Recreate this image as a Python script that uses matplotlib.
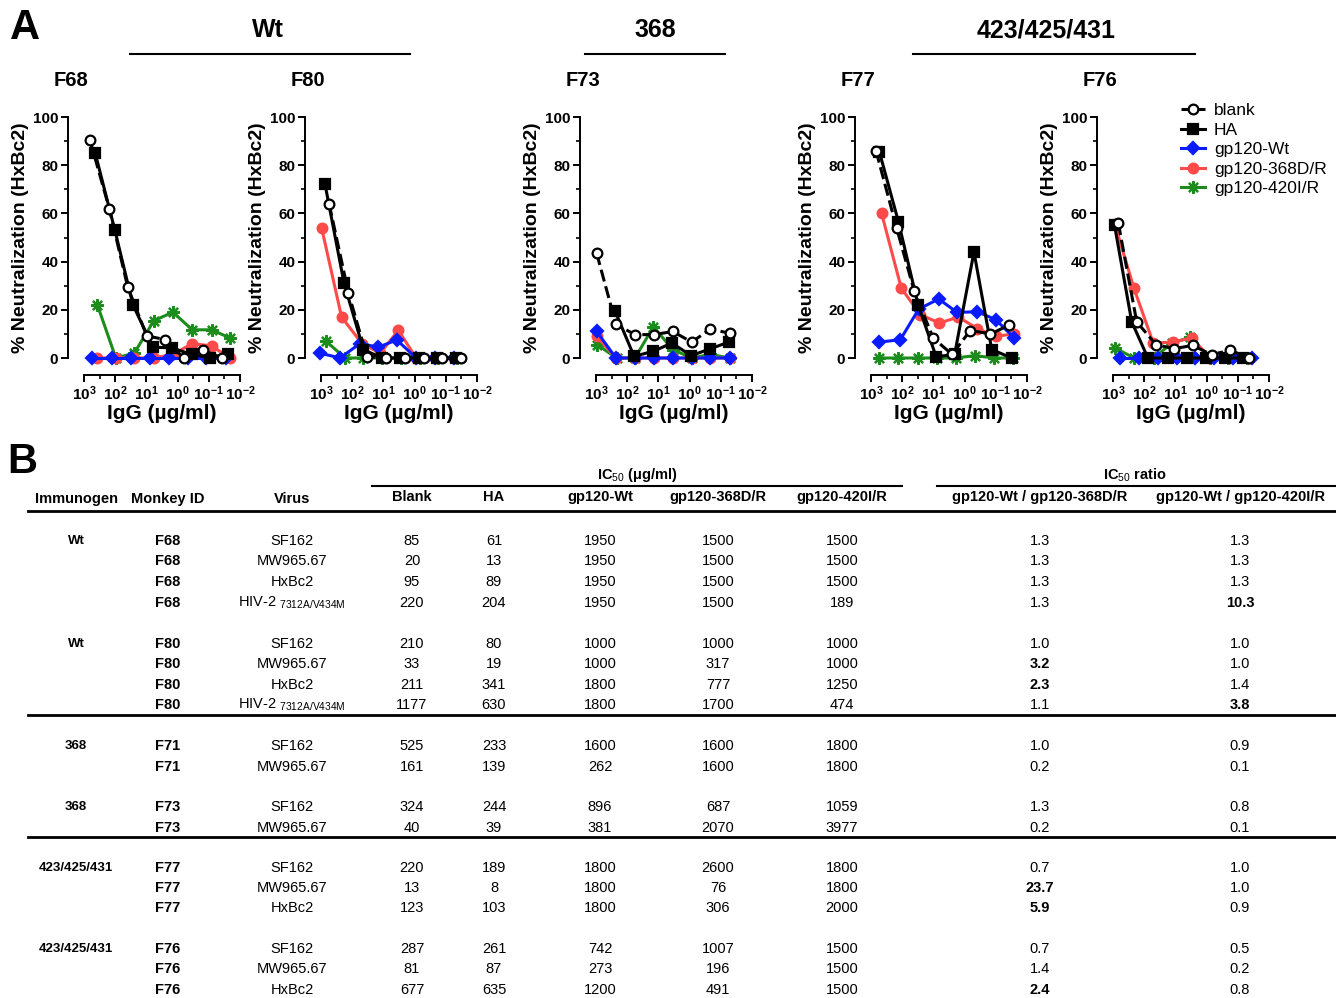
import numpy as np
import matplotlib
matplotlib.use('Agg')
import matplotlib.pyplot as plt
import matplotlib.ticker as ticker
from matplotlib.lines import Line2D

plt.rcParams['font.family'] = ['Liberation Sans', 'DejaVu Sans']
plt.rcParams['mathtext.fontset'] = 'custom'
plt.rcParams['mathtext.rm'] = 'Liberation Sans'
plt.rcParams['mathtext.it'] = 'Liberation Sans:italic'
plt.rcParams['mathtext.bf'] = 'Liberation Sans:bold'

W, H = 1336, 998

# ---------------- panel A data: log10 IgG (ug/ml) and % neutralization
# series order: blank, HA, gp120-Wt, gp120-368D/R, gp120-420I/R
series_names = ['blank', 'HA', 'gp120-Wt', 'gp120-368D/R', 'gp120-420I/R']
panel_ids = ['F68', 'F80', 'F73', 'F77', 'F76']

f68_x = [[2.81, 2.19, 1.60, 0.99, 0.39, -0.19, -0.82, -1.43],
         [2.64, 2.01, 1.43, 0.79, 0.19, -0.45, -1.04, -1.63],
         [2.73, 2.09, 1.49, 0.90, 0.28, -0.33, -0.92, -1.54],
         [2.57, 1.98, 1.39, 0.76, 0.15, -0.47, -1.09, -1.68],
         [2.57, 1.98, 1.39, 0.76, 0.15, -0.47, -1.09, -1.68]]
f68_y = [[90.5, 62, 29.5, 9.2, 7.6, 0, 3.2, 0],
         [85, 53, 22, 4.5, 4.2, 1.5, 0, 1.8],
         [0, 0, 0, 0, 0, 0, 0, 0],
         [0, 0, 0, 0, 1.5, 6, 5, 0],
         [22, 0, 2, 15.5, 19, 11.7, 11.7, 8.3]]

f80_x = [[2.74, 2.12, 1.53, 0.92, 0.30, -0.29, -0.88, -1.49],
         [2.87, 2.26, 1.64, 1.05, 0.46, -0.14, -0.73, -1.34],
         [3.03, 2.39, 1.75, 1.16, 0.57, -0.05, -0.66, -1.25],
         [2.98, 2.34, 1.69, 1.10, 0.52, -0.05, -0.66, -1.25],
         [2.84, 2.23, 1.64, 1.04, 0.44, -0.17, -0.76, -1.36]]
f80_y = [[64, 27, 0.5, 0, 0, 0, 0, 0],
         [72, 31, 3.5, 0, 0, 0, 0, 0],
         [2, 0, 6, 4.5, 7.5, 0, 0, 0],
         [54, 17, 6, 2, 11.5, 0, 0, 0],
         [7, 0, 0, 0, 0, 0, 0, 0]]

f73_x = [[2.98, 2.36, 1.75, 1.14, 0.54, -0.07, -0.66, -1.28],
         [2.39, 1.78, 1.16, 0.57, -0.05, -0.64, -1.25],
         [2.98, 2.36, 1.75, 1.14, 0.54, -0.07, -0.66, -1.28],
         [2.98, 2.36, 1.75, 1.14, 0.54, -0.07, -0.66, -1.28],
         [2.96, 2.34, 1.75, 1.16, 0.54, -0.07, -0.66, -1.28]]
f73_y = [[43.5, 14, 9.7, 9.7, 11, 6.6, 12, 10.3],
         [19.5, 0.7, 2.8, 6.2, 1, 3.7, 6.6],
         [11, 0, 0, 0, 0, 0, 0, 0],
         [9, 0, 0, 0, 0, 0, 0, 0],
         [5.5, 0, 0, 13, 3.5, 0, 1.5, 0]]

f77_x = [[2.84, 2.18, 1.62, 1.01, 0.40, -0.18, -0.83, -1.41],
         [2.73, 2.12, 1.49, 0.91, 0.32, -0.30, -0.87, -1.51],
         [2.73, 2.06, 1.47, 0.83, 0.24, -0.41, -1.00, -1.59],
         [2.66, 2.03, 1.42, 0.81, 0.20, -0.41, -1.00, -1.59],
         [2.73, 2.12, 1.49, 0.88, 0.28, -0.33, -0.95, -1.55]]
f77_y = [[86, 54, 28, 8.3, 1.5, 11.4, 10, 13.5],
         [85.5, 56.5, 22, 0.5, 1.5, 44, 3.5, 0],
         [6.6, 7.6, 20.3, 24.5, 18.9, 19.2, 15.9, 8.3],
         [60, 29, 18, 14.5, 17, 12.2, 9, 10],
         [0, 0, 0, 0, 0, 1, 0, 0]]

f76_x = [[2.83, 2.24, 1.62, 1.04, 0.45, -0.16, -0.75, -1.37],
         [2.95, 2.40, 1.88, 1.24, 0.63, 0.02, -0.59, -1.17],
         [2.78, 2.17, 1.57, 0.96, 0.36, -0.25, -0.86, -1.47],
         [2.94, 2.33, 1.71, 1.09, 0.48, -0.12, -0.72, -1.33],
         [2.93, 2.32, 1.70, 1.11, 0.52, -0.10, -0.70, -1.30]]
f76_y = [[56, 15, 5.5, 3.9, 5.2, 1.4, 3.2, 0],
         [55, 15, 0, 0, 0, 0, 0, 0],
         [0, 0, 0, 0, 0, 0, 0, 0],
         [55.5, 29, 6.2, 6.6, 8.3, 0, 0, 0],
         [4.1, 0, 0, 6.2, 8.6, 0, 0, 0]]

panel_x = [f68_x, f80_x, f73_x, f77_x, f76_x]
panel_y = [f68_y, f80_y, f73_y, f77_y, f76_y]

# ---------------- panel B table data
immunogen = ['Wt', '', '', '', 'Wt', '', '', '', '368', '', '368', '',
             '423/425/431', '', '', '423/425/431', '', '']
monkey = ['F68'] * 4 + ['F80'] * 4 + ['F71'] * 2 + ['F73'] * 2 + ['F77'] * 3 + ['F76'] * 3
virus = ['SF162', 'MW965.67', 'HxBc2', 'HIV-2', 'SF162', 'MW965.67', 'HxBc2', 'HIV-2',
         'SF162', 'MW965.67', 'SF162', 'MW965.67',
         'SF162', 'MW965.67', 'HxBc2', 'SF162', 'MW965.67', 'HxBc2']
ic_blank = [85, 20, 95, 220, 210, 33, 211, 1177, 525, 161, 324, 40, 220, 13, 123, 287, 81, 677]
ic_ha = [61, 13, 89, 204, 80, 19, 341, 630, 233, 139, 244, 39, 189, 8, 103, 261, 87, 635]
ic_wt = [1950, 1950, 1950, 1950, 1000, 1000, 1800, 1800, 1600, 262, 896, 381,
         1800, 1800, 1800, 742, 273, 1200]
ic_368 = [1500, 1500, 1500, 1500, 1000, 317, 777, 1700, 1600, 1600, 687, 2070,
          2600, 76, 306, 1007, 196, 491]
ic_420 = [1500, 1500, 1500, 189, 1000, 1000, 1250, 474, 1800, 1800, 1059, 3977,
          1800, 1800, 2000, 1500, 1500, 1500]
ratio_368 = ['1.3', '1.3', '1.3', '1.3', '1.0', '3.2', '2.3', '1.1', '1.0', '0.2',
             '1.3', '0.2', '0.7', '23.7', '5.9', '0.7', '1.4', '2.4']
ratio_420 = ['1.3', '1.3', '1.3', '10.3', '1.0', '1.0', '1.4', '3.8', '0.9', '0.1',
             '0.8', '0.1', '1.0', '1.0', '0.9', '0.5', '0.2', '0.8']
bold_368 = [5, 6, 13, 14, 17]
bold_420 = [3, 7]

# ---------------- styles
colors = ['black', 'black', '#0a1cff', '#ff4a4a', '#1c8c1c']
markers = ['o', 's', 'D', 'o', (8, 2, 0)]
msizes = [7, 7, 6, 7, 9]
mfcs = ['white', 'black', '#0a1cff', '#ff4a4a', '#1c8c1c']
lstyles = [(0, (4, 1.6)), '-', '-', '-', '-']
zorders = [6, 5, 4, 3, 2]


def fx(px):
    return px / W


def fy(py):
    return 1 - py / H


fig = plt.figure(figsize=(W / 100, H / 100), dpi=100)

axis_left = [84, 321, 596, 871, 1113]
axes_list = []
for i, pid in enumerate(panel_ids):
    ax = fig.add_axes([fx(axis_left[i]), fy(358), 156 / W, 241 / H])
    axes_list.append(ax)
    for s in range(5):
        xs = 10 ** np.array(panel_x[i][s])
        ax.plot(xs, panel_y[i][s], color=colors[s], linestyle=lstyles[s], lw=2.2,
                marker=markers[s], ms=msizes[s], mfc=mfcs[s], mec=colors[s], mew=1.6,
                zorder=zorders[s], clip_on=False, label=series_names[s])
    ax.set_xscale('log')
    ax.set_xlim(1e3, 1e-2)
    ax.set_ylim(0, 100)
    for sp in ['top', 'right']:
        ax.spines[sp].set_visible(False)
    ax.spines['left'].set_position(('outward', 11.5))
    ax.spines['bottom'].set_position(('outward', 12))
    ax.spines['left'].set_linewidth(1.4)
    ax.spines['bottom'].set_linewidth(1.4)
    ax.set_yticks([0, 20, 40, 60, 80, 100])
    ax.yaxis.set_minor_locator(ticker.FixedLocator([10, 30, 50, 70, 90]))
    ax.xaxis.set_major_locator(ticker.FixedLocator([1e3, 1e2, 1e1, 1e0, 1e-1, 1e-2]))
    ax.xaxis.set_minor_locator(ticker.FixedLocator(
        [10 ** (k + 0.5) for k in range(-2, 3)]))
    ax.xaxis.set_minor_formatter(ticker.NullFormatter())
    ax.tick_params(which='major', length=5, width=1.4, labelsize=11, pad=2)
    ax.tick_params(which='minor', length=3, width=1.2)
    for lab in ax.get_xticklabels() + ax.get_yticklabels():
        lab.set_fontweight('bold')
    ax.set_ylabel('% Neutralization (HxBc2)', fontsize=14, fontweight='bold', labelpad=3)
    ax.set_xlabel('IgG (\u00b5g/ml)', fontsize=15, fontweight='bold', labelpad=1)
    ax.patch.set_visible(False)
    fig.text(fx(axis_left[i] - 30), fy(80), pid, fontsize=14.5, fontweight='bold',
             ha='left', va='center')

# group headers
fig.text(fx(25), fy(28), 'A', fontsize=30, fontweight='bold', ha='center', va='center')
fig.text(fx(268), fy(30), 'Wt', fontsize=18, fontweight='bold', ha='center', va='center')
fig.text(fx(655), fy(30), '368', fontsize=18, fontweight='bold', ha='center', va='center')
fig.text(fx(1046), fy(30), '423/425/431', fontsize=18, fontweight='bold', ha='center', va='center')
for x1, x2 in [(130, 410), (585, 725), (913, 1195)]:
    fig.add_artist(Line2D([fx(x1), fx(x2)], [fy(54), fy(54)], color='black', lw=1.5))

handles, labels = axes_list[0].get_legend_handles_labels()
fig.legend(handles, labels, loc='upper left', bbox_to_anchor=(fx(1174), fy(96)),
           frameon=False, fontsize=12.5, handlelength=1.4, handletextpad=0.5,
           labelspacing=0.25, borderaxespad=0)

# ---------------- panel B table
fig.text(fx(22), fy(462), 'B', fontsize=30, fontweight='bold', ha='center', va='center')

tfont = ['Liberation Sans Narrow', 'Liberation Sans']
col_x = [76, 168, 292, 412, 494, 600, 718, 842, 1040, 1240]
headers = ['Immunogen', 'Monkey ID', 'Virus', 'Blank', 'HA', 'gp120-Wt', 'gp120-368D/R',
           'gp120-420I/R', 'gp120-Wt / gp120-368D/R', 'gp120-Wt / gp120-420I/R']
header_y = [499, 499, 499, 497, 497, 497, 497, 497, 497, 497]
for cx, hy, h in zip(col_x, header_y, headers):
    fig.text(fx(cx), fy(hy), h, fontsize=10.5, fontweight='bold', ha='center',
             va='center', family=tfont)

fig.text(fx(637), fy(475), r'IC$_{50}$ ($\mathregular{\mu}$g/ml)', fontsize=10.5,
         fontweight='bold', ha='center', va='center', family=tfont)
fig.text(fx(1135), fy(475), r'IC$_{50}$ ratio', fontsize=10.5, fontweight='bold',
         ha='center', va='center', family=tfont)
fig.add_artist(Line2D([fx(372), fx(902)], [fy(486), fy(486)], color='black', lw=1.5))
fig.add_artist(Line2D([fx(937), fx(1336)], [fy(486), fy(486)], color='black', lw=1.5))
for ly in [511, 715, 837]:
    fig.add_artist(Line2D([fx(28), fx(1336)], [fy(ly), fy(ly)], color='black', lw=2))

row_y = [541, 561, 582, 603, 644, 664, 685, 705, 746, 767, 807, 828,
         868, 888, 908, 949, 969, 990]
for r, ry in enumerate(row_y):
    y = fy(ry)
    if immunogen[r]:
        fig.text(fx(col_x[0]), y, immunogen[r], fontsize=9.5, fontweight='bold',
                 ha='center', va='center', family=tfont)
    fig.text(fx(col_x[1]), y, monkey[r], fontsize=10.5, fontweight='bold',
             ha='center', va='center', family=tfont)
    if virus[r] == 'HIV-2':
        fig.text(fx(col_x[2]), y, r'HIV-2 $_{\mathregular{7312A/V434M}}$', fontsize=10.5,
                 ha='center', va='center', family=tfont)
    else:
        fig.text(fx(col_x[2]), y, virus[r], fontsize=10.5, ha='center', va='center',
                 family=tfont)
    vals = [ic_blank[r], ic_ha[r], ic_wt[r], ic_368[r], ic_420[r]]
    for c, v in enumerate(vals):
        fig.text(fx(col_x[3 + c]), y, str(v), fontsize=10.5, ha='center', va='center',
                 family=tfont)
    fig.text(fx(col_x[8]), y, ratio_368[r], fontsize=10.5, ha='center', va='center',
             family=tfont, fontweight='bold' if r in bold_368 else 'normal')
    fig.text(fx(col_x[9]), y, ratio_420[r], fontsize=10.5, ha='center', va='center',
             family=tfont, fontweight='bold' if r in bold_420 else 'normal')

fig.savefig('out.png', dpi=100)
